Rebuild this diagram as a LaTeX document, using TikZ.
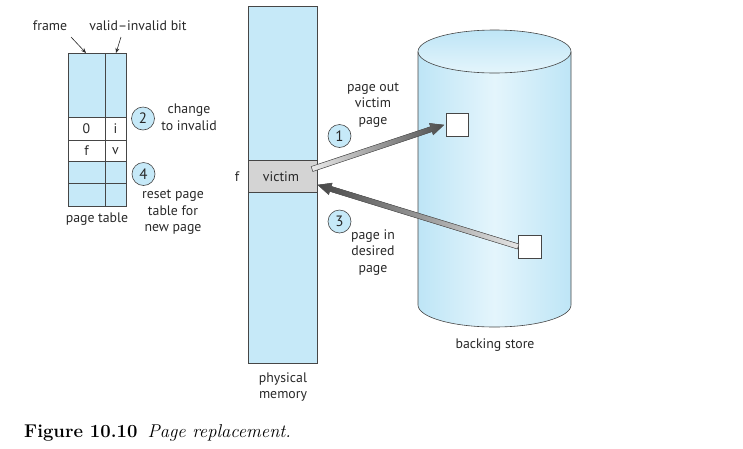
\documentclass[tikz,border=0pt]{standalone}
\usepackage{fontspec}
\setsansfont{PT Sans}
\usetikzlibrary{calc,arrows.meta}
\definecolor{lblue}{RGB}{198,233,248}
\definecolor{cylside}{RGB}{190,229,246}
\definecolor{cylmid}{RGB}{228,245,252}
\definecolor{vgray}{RGB}{212,212,212}
\definecolor{txt}{RGB}{40,40,40}
\definecolor{edge}{RGB}{70,70,70}
\newcommand\fatarrow[4]{%
  \coordinate (fa-h) at ($(#2)!13pt!(#1)$);
  \filldraw[draw=gray!70!black, line width=0.5pt, left color=#3, right color=#4]
    ($(#1)!2.6pt!90:(#2)$) -- ($(fa-h)!2.6pt!-90:(#1)$) -- ($(fa-h)!6pt!-90:(#1)$)
    -- (#2) -- ($(fa-h)!6pt!90:(#1)$) -- ($(fa-h)!2.6pt!90:(#1)$)
    -- ($(#1)!2.6pt!-90:(#2)$) -- cycle;}
\begin{document}
\begin{tikzpicture}[x=1pt,y=-1pt,
  lbl/.style={font=\sffamily\fontsize{13.8}{16.5}\selectfont, text=txt, inner sep=0pt},
  lines/.style={lbl, align=center},
  stepcircle/.style={circle, draw=edge, fill=lblue, line width=0.6pt, minimum size=23pt, inner sep=0pt, font=\sffamily\fontsize{15}{16}\selectfont, text=txt},
  box/.style={draw=edge, line width=0.6pt},
  ptr/.style={-{Stealth[length=5pt,width=4pt]}, draw=txt, line width=0.6pt}]
\useasboundingbox (0,0) rectangle (743,448);

% ---------- page table ----------
\fill[lblue] (68,53) rectangle (126,117);
\fill[white] (68,117) rectangle (126,161);
\fill[lblue] (68,161) rectangle (126,206);
\draw[box] (68,53) rectangle (126,206);
\draw[box] (105,53) -- (105,206);
\draw[box] (68,117) -- (126,117);
\draw[box] (68,140) -- (126,140);
\draw[box] (68,161) -- (126,161);
\draw[box] (68,183) -- (126,183);
\node[lbl] (e0) at (86.5,129) {0};
\node[lbl] (ei) at (115.5,129) {i};
\node[lbl] (ef) at (86.5,151) {f};
\node[lbl] (ev) at (115.5,151) {v};
\coordinate (ptframe) at (86,53);
\coordinate (ptbit) at (116,53);
\node[lbl] (frame) at (50,26) {frame};
\node[lbl] (vib) at (138,26) {valid–invalid bit};
\draw[ptr] (71,37) -- (ptframe);
\draw[ptr] (121,37) -- (ptbit);
\node[lbl] (ptlabel) at (97,219) {page table};

\node[stepcircle] (c2) at (143,118.5) {2};
\node[lines] (t2) at (189,117) {change\\to invalid};
\node[stepcircle] (c4) at (143.5,174) {4};
\node[lines] (t4) at (173,212.5) {reset page\\table for\\new page};

% ---------- physical memory ----------
\fill[lblue] (248,6) rectangle (317,363);
\fill[vgray] (248,160) rectangle (317,192);
\draw[box] (248,6) rectangle (317,363);
\draw[box] (248,160) -- (317,160);
\draw[box] (248,192) -- (317,192);
\node[lbl] (victim) at (281,177) {victim};
\node[lbl] (fl) at (237,177) {f};
\node[lines] (pm) at (283,387) {physical\\memory};

% ---------- backing store ----------
\path[left color=cylside, right color=cylside, middle color=cylmid]
  (418,52) -- (418,305) arc[start angle=180, end angle=0, x radius=76.5, y radius=22]
  -- (571,52) -- cycle;
\path[top color=cylside, bottom color=cylmid]
  (494.5,51.5) ellipse[x radius=76.5, y radius=21.5];
\draw[box] (418,52) -- (418,305) arc[start angle=180, end angle=0, x radius=76.5, y radius=22] -- (571,52);
\draw[box] (494.5,51.5) ellipse[x radius=76.5, y radius=21.5];
\node[lbl] (bs) at (495,345) {backing store};

\node[draw=edge, fill=white, line width=0.6pt, minimum width=22pt, minimum height=23pt, inner sep=0pt] (sq1) at (457,125) {};
\node[draw=edge, fill=white, line width=0.6pt, minimum width=23pt, minimum height=23pt, inner sep=0pt] (sq2) at (530,246.5) {};

% ---------- arrows ----------
\coordinate (a1s) at (312,169);
\coordinate (a1e) at ([xshift=-2pt]sq1.west);
\fatarrow{a1s}{a1e}{white!92!black}{black!70}
\coordinate (a3s) at (sq2.west);
\coordinate (a3e) at (318,185);
\fatarrow{a3s}{a3e}{black!72}{white!90!black}

\node[stepcircle] (c1) at (339.5,136) {1};
\node[lines] (t1) at (373,105) {page out\\victim\\page};
\node[stepcircle] (c3) at (339.5,221.5) {3};
\node[lines] (t3) at (373,252.5) {page in\\desired\\page};

% ---------- caption ----------
\node[anchor=base west, inner sep=0pt, font=\fontsize{18.5}{21}\selectfont] (cap) at (24,437)
  {\textbf{Figure 10.10}\hspace{0.55em}\textit{Page replacement.}};
\end{tikzpicture}
\end{document}
